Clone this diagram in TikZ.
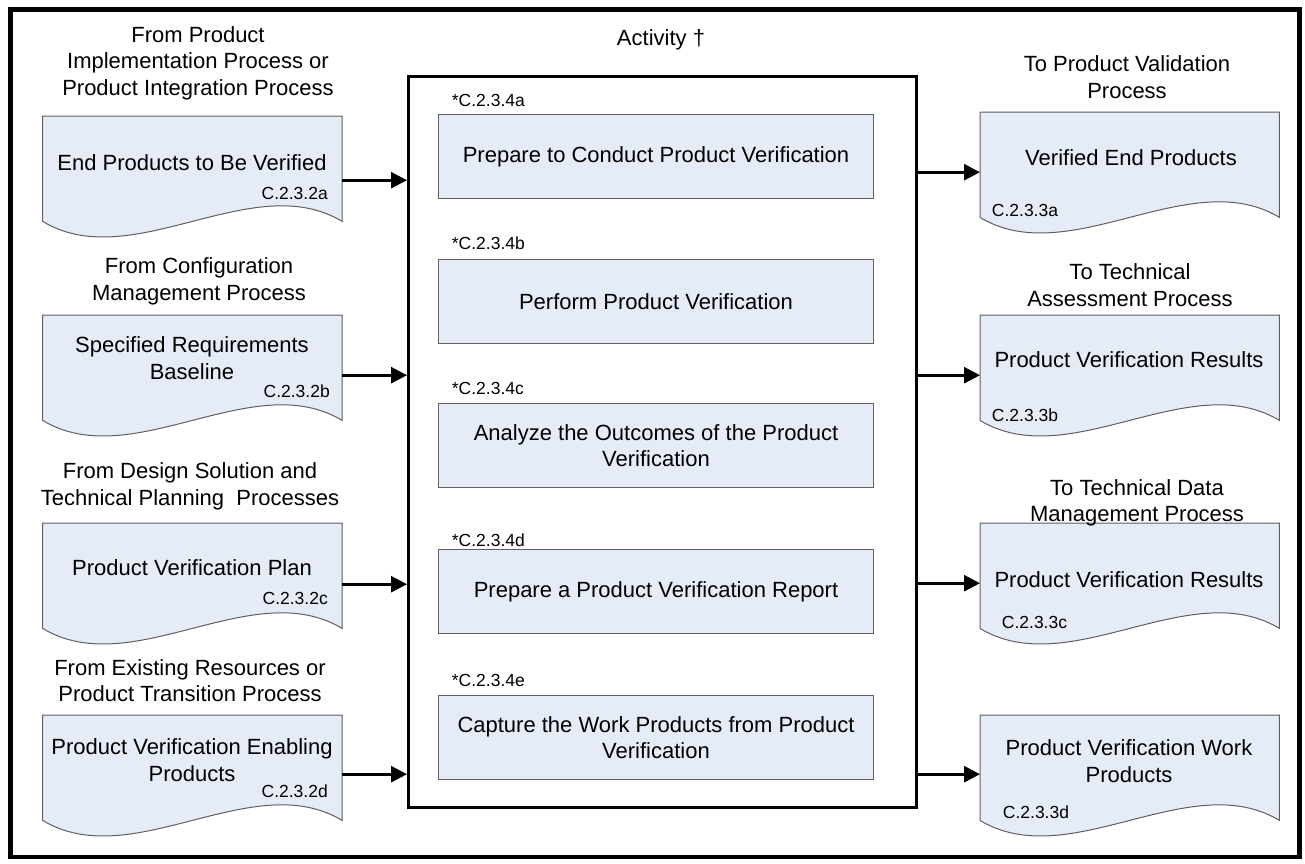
\documentclass[tikz,border=0pt]{standalone}
\usepackage{fontspec}
\setmainfont{Liberation Sans}
\usetikzlibrary{arrows.meta}
\definecolor{docfill}{RGB}{230,236,247}
\definecolor{edge}{RGB}{95,95,95}
\newcommand\docpath[1]{(#1.north west) -- (#1.north east) -- (#1.south east) .. controls ([xshift=60pt,yshift=54pt]#1.south) and ([xshift=-60pt,yshift=-54pt]#1.south) .. (#1.south west) -- cycle}
\begin{document}
\begin{tikzpicture}[x=1pt,y=-1pt,
  txt/.style={align=center,font=\fontsize{22}{26.5}\selectfont,inner sep=0pt},
  code/.style={font=\fontsize{17.5}{20}\selectfont,inner sep=0pt},
  docbox/.style={minimum width=299pt,minimum height=105pt,inner sep=0pt,anchor=north west},
  docdraw/.style={fill=docfill,draw=edge,line width=1pt},
  proc/.style={draw=edge,fill=docfill,line width=1pt,minimum width=435pt,minimum height=84pt,anchor=north west,inner sep=0pt,align=center,font=\fontsize{22}{26.5}\selectfont},
  arr/.style={line width=2.7pt,-{Triangle[length=16pt,width=16pt]}},
]
\useasboundingbox (0,0) rectangle (1305,863);
\draw[line width=4.5pt] (10.5,9.5) rectangle (1299.5,857);

% activity box
\node[draw,line width=2.6pt,minimum width=508pt,minimum height=731pt,anchor=north west,inner sep=0pt] (act) at (407,75) {};
\node[txt] (title) at (661,40) {Activity †};

\node[proc] (pa) at (438,114) {Prepare to Conduct Product Verification};
\node[proc] (pb) at (438,259) {Perform Product Verification};
\node[proc] (pc) at (438,403) {Analyze the Outcomes of the Product\\Verification};
\node[proc] (pd) at (438,549) {Prepare a Product Verification Report};
\node[proc] (pe) at (438,695) {Capture the Work Products from Product\\Verification};
\node[code,anchor=west] (ka) at (451.7,100) {*C.2.3.4a};
\node[code,anchor=west] (kb) at (451.7,243.3) {*C.2.3.4b};
\node[code,anchor=west] (kc) at (451.7,388.3) {*C.2.3.4c};
\node[code,anchor=west] (kd) at (451.7,540.7) {*C.2.3.4d};
\node[code,anchor=west] (ke) at (451.7,680) {*C.2.3.4e};

% left documents
\node[docbox] (la) at (42.7,116) {};
\node[docbox] (lb) at (42.7,315) {};
\node[docbox] (lc) at (42.7,523) {};
\node[docbox] (ld) at (42.7,715) {};
\path[docdraw] \docpath{la};
\path[docdraw] \docpath{lb};
\path[docdraw] \docpath{lc};
\path[docdraw] \docpath{ld};
\node[txt] (lha) at (198,63) {From Product\\Implementation Process or\\Product Integration Process};
\node[txt] (lhb) at (199,281.5) {From Configuration\\Management Process};
\node[txt] (lhc) at (190,486.5) {From Design Solution and\\Technical Planning\ \ Processes};
\node[txt] (lhd) at (190,680.5) {From Existing Resources or\\Product Transition Process};
\node[txt] (lta) at (192,163) {End Products to Be Verified};
\node[txt] (ltb) at (192,358.3) {Specified Requirements\\Baseline};
\node[txt] (ltc) at (192,568) {Product Verification Plan};
\node[txt] (ltd) at (192,760.3) {Product Verification Enabling\\Products};
\node[code,anchor=east] (lca) at (328,193) {C.2.3.2a};
\node[code,anchor=east] (lcb) at (330,391.7) {C.2.3.2b};
\node[code,anchor=east] (lcc) at (328,598) {C.2.3.2c};
\node[code,anchor=east] (lcd) at (328,791.7) {C.2.3.2d};

% right documents
\node[docbox] (ra) at (980,112) {};
\node[docbox] (rb) at (980,315) {};
\node[docbox] (rc) at (980,523) {};
\node[docbox] (rd) at (980,715) {};
\path[docdraw] \docpath{ra};
\path[docdraw] \docpath{rb};
\path[docdraw] \docpath{rc};
\path[docdraw] \docpath{rd};
\node[txt] (rha) at (1127,77) {To Product Validation\\Process};
\node[txt] (rhb) at (1130,285) {To Technical\\Assessment Process};
\node[txt] (rhc) at (1137,503) {To Technical Data\\Management Process};
\node[txt] (rta) at (1131,158) {Verified End Products};
\node[txt] (rtb) at (1129,360) {Product Verification Results};
\node[txt] (rtc) at (1129,580) {Product Verification Results};
\node[txt] (rtd) at (1129,761) {Product Verification Work\\Products};
\node[code,anchor=west] (rca) at (991.7,210) {C.2.3.3a};
\node[code,anchor=west] (rcb) at (991.7,415) {C.2.3.3b};
\node[code,anchor=west] (rcc) at (1001.7,622.7) {C.2.3.3c};
\node[code,anchor=west] (rcd) at (1002.7,812.7) {C.2.3.3d};

% connection points
\coordinate (ia) at ([yshift=-11.5pt]la.east);
\coordinate (ib) at ([yshift=-7.5pt]lb.east);
\coordinate (ic) at ([yshift=-8.5pt]lc.east);
\coordinate (id) at ([yshift=-6.5pt]ld.east);
\coordinate (oa) at ([yshift=-7.5pt]ra.west);
\coordinate (ob) at ([yshift=-7.5pt]rb.west);
\coordinate (oc) at ([yshift=-7.5pt]rc.west);
\coordinate (od) at ([yshift=-6.5pt]rd.west);
% arrows in
\draw[arr] (ia) -- (act.west |- ia);
\draw[arr] (ib) -- (act.west |- ib);
\draw[arr] (ic) -- (act.west |- ic);
\draw[arr] (id) -- (act.west |- id);
% arrows out
\draw[arr] (act.east |- oa) -- (oa);
\draw[arr] (act.east |- ob) -- (ob);
\draw[arr] (act.east |- oc) -- (oc);
\draw[arr] (act.east |- od) -- (od);
\end{tikzpicture}
\end{document}
